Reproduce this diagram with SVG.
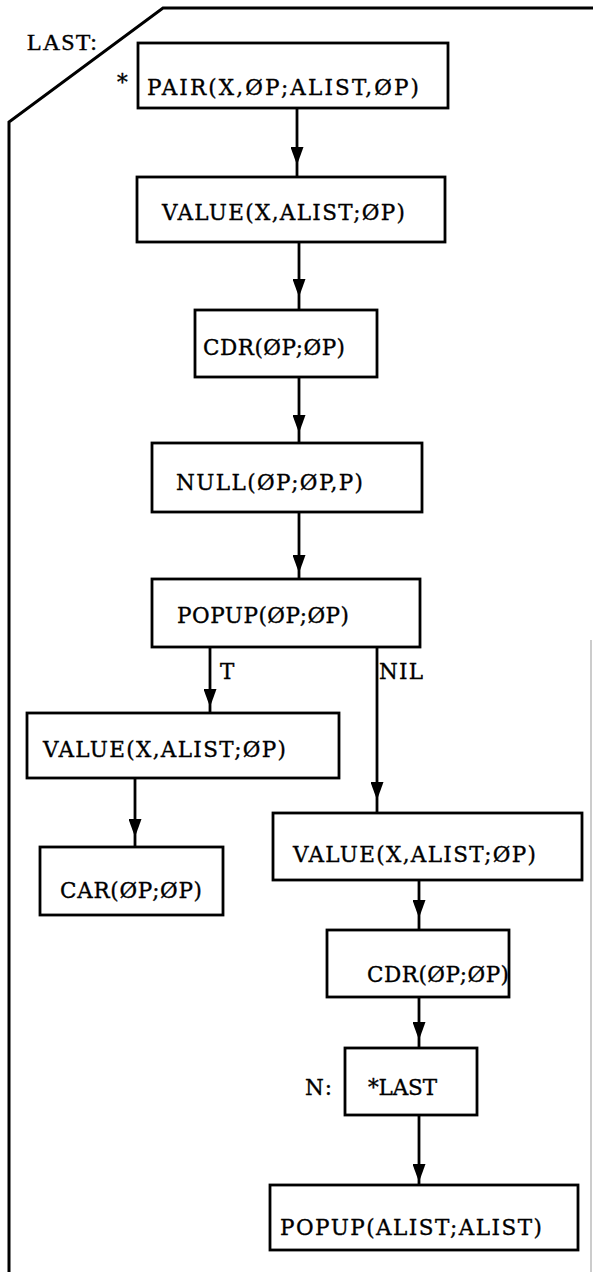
<svg xmlns="http://www.w3.org/2000/svg" width="593" height="1272" viewBox="0 0 593 1272">
  <style>
    .box { fill: #fff; stroke: #000; stroke-width: 2.8; }
    .frame { fill: none; stroke: #000; stroke-width: 3; }
    .edge { fill: none; stroke: #000; stroke-width: 2.8; marker-mid: url(#head); }
    .t { font-family: "DejaVu Serif", "Liberation Serif", serif; font-size: 21.5px; fill: #000; stroke: #000; stroke-width: 0.35; }
    .lbl { font-family: "Liberation Serif", "Times New Roman", serif; font-size: 24px; fill: #000; stroke: #000; stroke-width: 0.4; }
  </style>
  <defs>
    <marker id="head" viewBox="0 0 18 13" refX="18" refY="6.5" markerWidth="18" markerHeight="13" markerUnits="userSpaceOnUse" orient="auto">
      <path d="M0,0 L18,6.5 L0,13 Z" fill="#000"/>
    </marker>
  </defs>

  <!-- outer frame of the LAST routine -->
  <g id="frame">
    <path class="frame" d="M593,8 L163,8 L9,122 L9,1272"/>
    <line x1="591" y1="640" x2="591" y2="1272" stroke="#999" stroke-width="1"/>
    <text class="lbl" x="27" y="50" textLength="70">LAST:</text>
  </g>

  <!-- connectors -->
  <g id="connectors">
    <path class="edge" d="M297,108 L297,165 L297,177"/>
    <path class="edge" d="M299,242 L299,297 L299,310"/>
    <path class="edge" d="M299,377 L299,433 L299,443"/>
    <path class="edge" d="M299,512 L299,573 L299,579"/>
    <path class="edge" d="M210,647 L210,707 L210,713"/>
    <path class="edge" d="M377,647 L377,800 L377,813"/>
    <path class="edge" d="M135,778 L135,837 L135,847"/>
    <path class="edge" d="M419,880 L419,918 L419,930"/>
    <path class="edge" d="M419,997 L419,1040 L419,1048"/>
    <path class="edge" d="M419,1115 L419,1182 L419,1185"/>
    <text class="t" x="220" y="679">T</text>
    <text class="t" x="379" y="679" textLength="44">NIL</text>
  </g>

  <g id="pair">
    <rect class="box" x="138" y="43" width="310" height="65"/>
    <text class="t" x="117" y="90" font-size="22">*</text>
    <text class="t" x="147" y="95" textLength="272">PAIR(X,ØP;ALIST,ØP)</text>
  </g>
  <g id="value1">
    <rect class="box" x="137" y="177" width="308" height="65"/>
    <text class="t" x="162" y="220" textLength="243">VALUE(X,ALIST;ØP)</text>
  </g>
  <g id="cdr1">
    <rect class="box" x="195" y="310" width="182" height="67"/>
    <text class="t" x="203" y="355" textLength="142">CDR(ØP;ØP)</text>
  </g>
  <g id="null">
    <rect class="box" x="152" y="443" width="270" height="69"/>
    <text class="t" x="176" y="490" textLength="187">NULL(ØP;ØP,P)</text>
  </g>
  <g id="popup1">
    <rect class="box" x="152" y="579" width="268" height="68"/>
    <text class="t" x="177" y="623" textLength="172">POPUP(ØP;ØP)</text>
  </g>
  <g id="value2">
    <rect class="box" x="27" y="713" width="312" height="65"/>
    <text class="t" x="43" y="757" textLength="243">VALUE(X,ALIST;ØP)</text>
  </g>
  <g id="car">
    <rect class="box" x="40" y="847" width="183" height="68"/>
    <text class="t" x="60" y="898" textLength="142">CAR(ØP;ØP)</text>
  </g>
  <g id="value3">
    <rect class="box" x="273" y="813" width="309" height="67"/>
    <text class="t" x="293" y="862" textLength="243">VALUE(X,ALIST;ØP)</text>
  </g>
  <g id="cdr2">
    <rect class="box" x="327" y="930" width="182" height="67"/>
    <text class="t" x="367" y="982" textLength="142">CDR(ØP;ØP)</text>
  </g>
  <g id="last">
    <rect class="box" x="345" y="1048" width="132" height="67"/>
    <text class="t" x="368" y="1095" textLength="69">*LAST</text>
    <text class="t" x="305" y="1095" textLength="27">N:</text>
  </g>
  <g id="popup2">
    <rect class="box" x="270" y="1185" width="308" height="65"/>
    <text class="t" x="280" y="1235" textLength="262">POPUP(ALIST;ALIST)</text>
  </g>
</svg>
